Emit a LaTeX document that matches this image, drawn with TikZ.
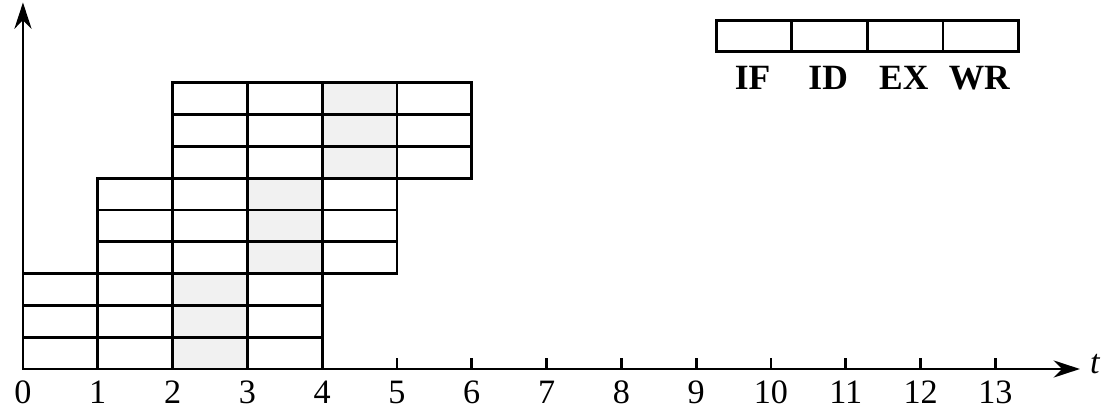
\documentclass[tikz,border=0pt]{standalone}
\usepackage{fontspec}
\setmainfont{Liberation Serif}
\usetikzlibrary{arrows.meta}
\begin{document}
\begin{tikzpicture}[
  line width=1.1pt,
  cellbox/.style={draw, line width=1.1pt, inner sep=0pt, minimum width=1.01cm, minimum height=0.415cm, anchor=south west},
  lbl/.style={font=\fontsize{13}{15}\selectfont, inner sep=1pt},
  leglbl/.style={font=\fontsize{13.5}{15}\selectfont\bfseries, inner sep=1pt},
  axisarrow/.style={-{Stealth[length=10pt,width=6.5pt]}, line width=1.1pt}
]
\useasboundingbox (-0.307,-0.655) rectangle (14.639,4.933);
% pipeline cells
\foreach \g in {0,1,2}{
  \foreach \r in {0,1,2}{
    \pgfmathsetmacro{\yb}{(3*\g+\r)*0.425}
    \fill[gray!11] (\g+2,\yb) rectangle ++(1,0.425);
    \foreach \c in {0,...,3}{
      \draw (\g+\c,\yb) rectangle ++(1,0.425);
    }
  }
}
% axes
\coordinate (O) at (0,0);
\coordinate (xe) at (14.13,0);
\coordinate (ye) at (0,4.9);
\draw[axisarrow] (O) -- (xe);
\draw[axisarrow] (O) -- (ye);
\foreach \i in {5,...,13}{
  \draw (\i,0) -- (\i,0.15);
}
\foreach \i in {0,...,13}{
  \node[lbl] (n\i) at (\i,-0.31) {\i};
}
\node[lbl, font=\fontsize{13}{15}\selectfont\itshape] (tl) at (14.33,0.06) {t};
% legend
\foreach \i/\nm in {0/IF,1/ID,2/EX,3/WR}{
  \node[cellbox] (leg\i) at (9.25+1.01*\i,4.225) {};
  \node[leglbl] (lab\i) at (9.755+1.01*\i,3.89) {\nm};
}
\end{tikzpicture}
\end{document}
